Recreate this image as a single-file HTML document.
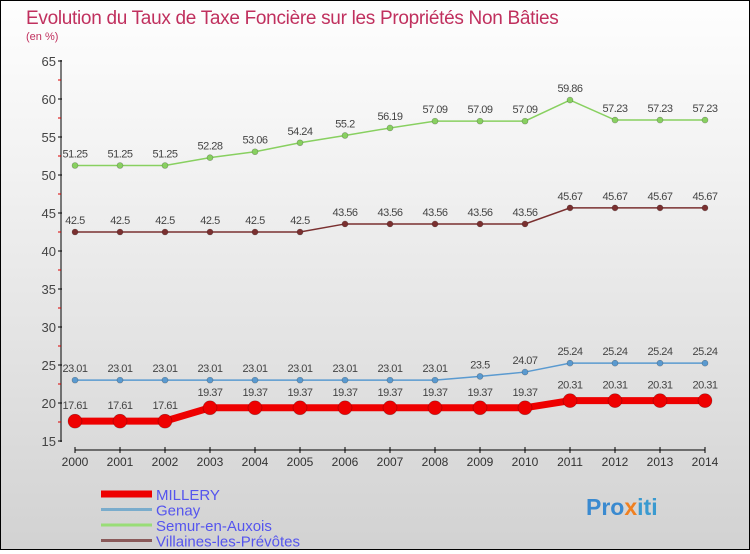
<!DOCTYPE html>
<html><head><meta charset="utf-8"><style>
body{margin:0}
#wrap{width:748px;height:548px;border:1px solid #000;background:linear-gradient(#fefefe,#f2f2f2 30%,#d2d2d2);position:relative;font-family:"Liberation Sans",sans-serif}
</style></head><body>
<div id="wrap">
<svg id="svg" width="748" height="548"></svg>
</div>
<script>
const years=[2000,2001,2002,2003,2004,2005,2006,2007,2008,2009,2010,2011,2012,2013,2014];
const millery=[17.61,17.61,17.61,19.37,19.37,19.37,19.37,19.37,19.37,19.37,19.37,20.31,20.31,20.31,20.31];
const genay=[23.01,23.01,23.01,23.01,23.01,23.01,23.01,23.01,23.01,23.5,24.07,25.24,25.24,25.24,25.24];
const semur=[51.25,51.25,51.25,52.28,53.06,54.24,55.2,56.19,57.09,57.09,57.09,59.86,57.23,57.23,57.23];
const villaines=[42.5,42.5,42.5,42.5,42.5,42.5,43.56,43.56,43.56,43.56,43.56,45.67,45.67,45.67,45.67];
const yTicks=[15,20,25,30,35,40,45,50,55,60,65];
const svg=document.getElementById('svg');const NS='http://www.w3.org/2000/svg';
const X=i=>74+45*i, Y=v=>440-(v-15)*7.6;
function el(t,a,p){const e=document.createElementNS(NS,t);for(const k in a)e.setAttribute(k,a[k]);(p||svg).appendChild(e);return e;}
function txt(s,a){const e=el('text',a);e.textContent=s;return e;}
let t=txt('Evolution du Taux de Taxe Foncière sur les Propriétés Non Bâties',{x:25,y:23,fill:'#c0305e','font-size':19,'letter-spacing':'-0.3'});

t=txt('(en %)',{x:25,y:39,fill:'#c0305e','font-size':11});

el('line',{x1:60,y1:59,x2:60,y2:441,stroke:'#000'});
yTicks.forEach((v,i)=>{el('line',{x1:57,x2:61,y1:Y(v),y2:Y(v),stroke:'#000'});
 if(i<yTicks.length-1)el('line',{x1:57,x2:60,y1:Y(v+2.5),y2:Y(v+2.5),stroke:'#d00'});
 const l=txt(v,{x:55,y:Y(v)+5,'text-anchor':'end','font-size':13,fill:'#444'});
 });
el('line',{x1:74,x2:704,y1:449,y2:449,stroke:'#000'});
years.forEach((yr,i)=>{el('line',{x1:X(i),x2:X(i),y1:446,y2:452,stroke:'#000'});
 const l=txt(yr,{x:X(i),y:465,'text-anchor':'middle','font-size':12,fill:'#333'});
 });
function series(d,color,w,r,name){
 const g=el('g',{});
 el('polyline',{points:d.map((v,i)=>X(i)+','+Y(v)).join(' '),fill:'none',stroke:color,'stroke-width':w},g);
 d.forEach((v,i)=>{const c=el('circle',{cx:X(i),cy:Y(v),r:r,fill:color,stroke:'rgba(0,0,0,0.3)','stroke-width':0.6},g);
  
  const l=txt(v,{x:X(i),y:Y(v)-(r+5),'text-anchor':'middle','font-size':11,fill:'#444','letter-spacing':'-0.5'});
  });
}
series(semur,'#88d060',1.5,3,'series-semur');
series(villaines,'#7a3030',1.5,3,'series-villaines');
series(genay,'#5a9ad0',1.5,3,'series-genay');
series(millery,'#ee0000',7,7,'series-millery');
const leg=[['MILLERY','#ee0000',7],['Genay','#7aaccc',3],['Semur-en-Auxois','#99dd77',3],['Villaines-les-Prévôtes','#8a5a5a',3]];
leg.forEach((L,i)=>{const y=493+i*15.5;
 el('line',{x1:100,x2:151,y1:y,y2:y,stroke:L[1],'stroke-width':L[2]});
 const l=txt(L[0],{x:155,y:y+6,'font-size':15,fill:'#5555ee'});
 });
t=txt('',{x:585,y:514,'font-size':23,'font-weight':'bold'});

[['Pro','#3a8ad0'],['x','#f08020'],['iti','#3a9ad0']].forEach(p=>{const s=el('tspan',{fill:p[1]},t);s.textContent=p[0];});
</script>
</body></html>
